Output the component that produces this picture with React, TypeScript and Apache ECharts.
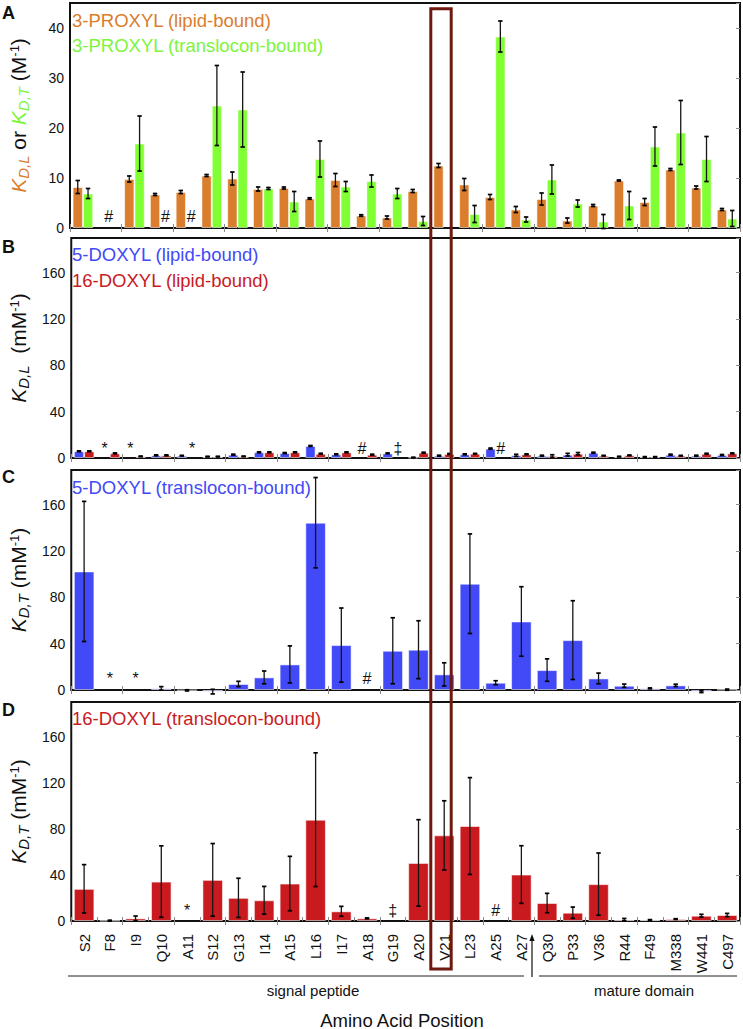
import React, { useEffect, useRef } from 'react';
import * as echarts from 'echarts';

// ---------------- data ----------------
const categories = ['S2', 'F8', 'I9', 'Q10', 'A11', 'S12', 'G13', 'I14', 'A15', 'L16', 'I17', 'A18', 'G19', 'A20', 'V21', 'L23', 'A25', 'A27', 'Q30', 'P33', 'V36', 'R44', 'F49', 'M338', 'W441', 'C497'];

// Panel A: 3-PROXYL (M^-1)
const proxylLipid = [8.2, null, 9.8, 6.7, 7.2, 10.5, 9.9, 7.8, 8.0, 5.9, 9.6, 2.5, 2.1, 7.4, 12.5, 8.7, 6.2, 3.7, 5.8, 1.5, 4.5, 9.5, 5.2, 11.7, 8.1, 3.7];
const proxylLipidErr = [1.3, null, 0.6, 0.2, 0.3, 0.2, 1.3, 0.4, 0.2, 0.15, 1.3, 0.15, 0.3, 0.3, 0.4, 1.2, 0.5, 0.6, 1.2, 0.5, 0.2, 0.1, 0.7, 0.2, 0.3, 0.2];
const proxylTrans = [6.9, null, 16.9, null, null, 24.5, 23.7, 7.9, 5.3, 13.8, 8.3, 9.4, 6.9, 1.4, null, 2.8, 38.3, 1.7, 9.7, 4.9, 1.3, 4.5, 16.3, 19.1, 13.8, 1.9];
const proxylTransErr = [1.0, null, 5.5, null, null, 8.0, 7.5, 0.2, 2.0, 3.6, 1.0, 1.2, 1.0, 0.9, null, 1.7, 3.1, 0.5, 2.9, 0.7, 1.4, 2.8, 3.9, 6.4, 4.5, 1.6];

// Panel B: lipid-bound DOXYL (mM^-1)
const doxyl5Lipid = [5.8, null, null, 2.3, 2.0, 1.2, 2.9, 4.9, 4.3, 10.4, 3.2, null, 4.0, 0.4, 2.0, 3.2, 8.1, 2.3, 2.0, 2.9, 4.6, 1.2, 0.9, 2.9, 2.0, 2.6];
const doxyl5LipidErr = [0.4, null, null, 0.4, 0.3, 0.3, 0.4, 0.4, 0.4, 0.4, 0.4, null, 0.4, 0.3, 0.4, 0.4, 0.5, 0.9, 0.4, 1.1, 0.4, 0.3, 0.3, 0.4, 0.4, 0.4];
const doxyl16Lipid = [5.8, 4.0, 1.4, 2.3, null, 1.2, 1.4, 4.9, 4.9, 3.7, 4.9, 2.9, null, 4.6, 3.5, 3.7, null, 3.2, 1.7, 3.7, 2.0, 2.3, 0.9, 2.0, 3.7, 4.0];
const doxyl16LipidErr = [0.4, 0.4, 0.3, 0.4, null, 0.3, 0.3, 0.4, 0.4, 0.4, 0.4, 0.4, null, 0.4, 0.4, 0.3, null, 0.4, 1.1, 1.0, 0.3, 0.3, 0.3, 0.3, 0.4, 0.4];

// Panel C: 5-DOXYL translocon-bound (mM^-1)
const doxyl5Trans = [102.4, null, null, 1.4, -0.3, -1.4, 5.2, 10.9, 22.1, 144.5, 38.8, null, 33.9, 34.8, 13.5, 91.8, 6.3, 59.2, 17.2, 43.1, 10.0, 3.7, 1.4, 4.0, -1.4, 0.3];
const doxyl5TransErr = [60.5, null, null, 1.5, 0.5, 2.0, 2.3, 5.5, 16.0, 39.0, 32.0, null, 28.5, 25.0, 10.0, 43.0, 1.7, 30.0, 9.7, 34.0, 4.6, 1.4, 0.4, 1.0, 0.8, 0.5];

// Panel D: 16-DOXYL translocon-bound (mM^-1)
const doxyl16Trans = [27.9, 0.3, 2.3, 34.2, null, 35.7, 20.1, 18.0, 32.5, 87.9, 8.4, 2.3, null, 50.4, 74.3, 82.4, null, 40.3, 15.6, 7.2, 32.0, 1.2, 0.9, 1.7, 4.6, 5.2];
const doxyl16TransErr = [21.0, 0.4, 2.0, 31.0, null, 31.5, 17.0, 12.0, 23.6, 58.0, 4.3, 0.4, null, 37.5, 30.0, 42.0, null, 25.0, 8.4, 4.9, 27.0, 1.0, 0.3, 0.3, 1.2, 1.4];

// Markers for missing data
const markersA = [
  { cat: 'F8', symbol: '#', series: 'both' },
  { cat: 'Q10', symbol: '#', series: 'second' },
  { cat: 'A11', symbol: '#', series: 'second' },
];
const markersB = [
  { cat: 'F8', symbol: '*', series: 'first' },
  { cat: 'I9', symbol: '*', series: 'first' },
  { cat: 'A11', symbol: '*', series: 'second' },
  { cat: 'A18', symbol: '#', series: 'first' },
  { cat: 'G19', symbol: '‡', series: 'second' },
  { cat: 'A25', symbol: '#', series: 'second' },
];
const markersC = [
  { cat: 'F8', symbol: '*', series: 'both' },
  { cat: 'I9', symbol: '*', series: 'both' },
  { cat: 'A18', symbol: '#', series: 'both' },
];
const markersD = [
  { cat: 'A11', symbol: '*', series: 'both' },
  { cat: 'G19', symbol: '‡', series: 'both' },
  { cat: 'A25', symbol: '#', series: 'both' },
];

const axisMaxA = 45;
const axisIntervalA = 10;
const axisMaxBCD = 190;
const axisIntervalBCD = 40;

const highlightCategory = 'V21';
const lastSignalCategory = 'A27';

// ---------------- style ----------------
const FONT = '"Liberation Sans", Arial, Helvetica, sans-serif';
const ORANGE = '#DA7D2C';
const GREEN = '#80FF33';
const GREEN_TEXT = '#7CF53A';
const BLUE = '#4249F7';
const RED = '#C91B1F';
const BOX = '#6E1810';
const INK = '#111';

const GL = 64;
const GW = 676;
const PANELS = [
  { top: 3, height: 225, max: axisMaxA, interval: axisIntervalA },
  { top: 238, height: 220, max: axisMaxBCD, interval: axisIntervalBCD },
  { top: 470, height: 220, max: axisMaxBCD, interval: axisIntervalBCD },
  { top: 702, height: 219, max: axisMaxBCD, interval: axisIntervalBCD },
];

const SLOT2 = { first: -0.2, second: 0.2, both: 0 };
const SLOT1 = { first: 0, second: 0, both: 0 };

function barSeries(k: number, values: any[], color: string, width: string) {
  return {
    type: 'bar',
    xAxisIndex: 2 * k,
    yAxisIndex: 2 * k,
    data: values.map((v) => (v == null ? '-' : v)),
    barWidth: width,
    barGap: '0%',
    clip: false,
    silent: true,
    itemStyle: { color, borderColor: 'rgba(255,255,255,0.55)', borderWidth: 1 },
  };
}

function errorSeries(k: number, values: any[], errs: any[], offset: number) {
  const data: number[][] = [];
  values.forEach((v, i) => {
    if (v != null && errs[i] != null) data.push([i, v, errs[i]]);
  });
  return {
    type: 'custom',
    xAxisIndex: 2 * k,
    yAxisIndex: 2 * k,
    z: 5,
    clip: false,
    silent: true,
    data,
    renderItem: (params: any, api: any) => {
      const i = api.value(0);
      const v = api.value(1);
      const e = api.value(2);
      const band = api.size([1, 0])[0];
      const top = api.coord([i, v + e]);
      const bot = api.coord([i, v - e]);
      const x = top[0] + offset * band;
      const cap = 2.2;
      const st = { stroke: '#161616', lineWidth: 1.3 };
      const cs = { stroke: '#000', lineWidth: 1.7 };
      return {
        type: 'group',
        children: [
          { type: 'line', shape: { x1: x, y1: top[1], x2: x, y2: bot[1] }, style: st },
          { type: 'line', shape: { x1: x - cap, y1: top[1], x2: x + cap, y2: top[1] }, style: cs },
          { type: 'line', shape: { x1: x - cap, y1: bot[1], x2: x + cap, y2: bot[1] }, style: cs },
        ],
      };
    },
  };
}

function markerSeries(k: number, list: any[], yVal: number, slots: any) {
  const data = list.map((m) => [categories.indexOf(m.cat), yVal]);
  return {
    type: 'custom',
    xAxisIndex: 2 * k,
    yAxisIndex: 2 * k,
    z: 6,
    clip: false,
    silent: true,
    data,
    renderItem: (params: any, api: any) => {
      const m = list[params.dataIndex];
      const p = api.coord([api.value(0), api.value(1)]);
      const band = api.size([1, 0])[0];
      return {
        type: 'text',
        x: p[0] + slots[m.series] * band,
        y: p[1],
        style: {
          text: m.symbol,
          fill: INK,
          font: `16px ${FONT}`,
          align: 'center',
          verticalAlign: 'middle',
          textAlign: 'center',
          textVerticalAlign: 'middle',
        },
      };
    },
  };
}

function richFor(c1: string, c2: string) {
  const main = { fontSize: 21, lineHeight: 23, verticalAlign: 'top', fontFamily: FONT };
  const sub = { fontSize: 15, lineHeight: 15, verticalAlign: 'bottom', fontFamily: FONT, fontStyle: 'italic' };
  return {
    k1: { ...main, fontStyle: 'italic', color: c1 },
    s1: { ...sub, color: c1 },
    k2: { ...main, fontStyle: 'italic', color: c2 },
    s2: { ...sub, color: c2 },
    t: { ...main, color: INK },
    sup: { fontSize: 13, lineHeight: 13, verticalAlign: 'top', fontFamily: FONT, color: INK },
  };
}

const yNames = [
  { name: '{k1|K}{s1|D,L}{t| or }{k2|K}{s2|D,T}{t| (M}{sup|-1}{t|)}', rich: richFor(ORANGE, GREEN_TEXT) },
  { name: '{k1|K}{s1|D,L}{t|  (mM}{sup|-1}{t|)}', rich: richFor(INK, INK) },
  { name: '{k1|K}{s1|D,T}{t| (mM}{sup|-1}{t|)}', rich: richFor(INK, INK) },
  { name: '{k1|K}{s1|D,T}{t| (mM}{sup|-1}{t|)}', rich: richFor(INK, INK) },
];

function buildOption() {
  const band = GW / categories.length;
  const hiIdx = categories.indexOf(highlightCategory);
  const boundaryX = GL + band * (categories.indexOf(lastSignalCategory) + 1);
  const boxLeft = GL + band * hiIdx + 2.8;
  const boxW = band - 5.6;
  const tick = { show: true, inside: true, length: 4, lineStyle: { color: '#8a8a8a', width: 1 } };

  const grid = PANELS.map((p) => ({
    left: GL,
    width: GW,
    top: p.top,
    height: p.height,
    show: true,
    borderColor: INK,
    borderWidth: 2,
    backgroundColor: 'transparent',
  }));

  const xAxis = PANELS.flatMap((p, k) => [
    {
      gridIndex: k,
      type: 'category',
      data: categories,
      position: 'bottom',
      axisLine: { show: false },
      axisTick: tick,
      splitLine: { show: false },
      axisLabel:
        k === 3
          ? { show: true, rotate: 90, margin: 13, fontSize: 15, color: INK, fontFamily: FONT, interval: 0 }
          : { show: false },
    },
    {
      gridIndex: k,
      type: 'category',
      data: categories,
      position: 'top',
      axisLine: { show: false },
      axisTick: tick,
      splitLine: { show: false },
      axisLabel: { show: false },
    },
  ]);

  const yAxis = PANELS.flatMap((p, k) => [
    {
      gridIndex: k,
      type: 'value',
      min: 0,
      max: p.max,
      interval: p.interval,
      position: 'left',
      axisLine: { show: false },
      axisTick: { show: false },
      splitLine: { show: false },
      axisLabel: {
        color: INK,
        fontSize: 14,
        fontFamily: FONT,
        margin: 6,
        formatter: (v: number) => (v % p.interval === 0 ? String(v) : ''),
      },
      name: yNames[k].name,
      nameLocation: 'middle',
      nameRotate: 90,
      nameGap: 39,
      nameTextStyle: { rich: yNames[k].rich, fontFamily: FONT },
    },
    {
      gridIndex: k,
      type: 'value',
      min: 0,
      max: p.max,
      interval: p.interval,
      position: 'right',
      axisLine: { show: false },
      axisTick: tick,
      splitLine: { show: false },
      axisLabel: { show: false },
    },
  ]);

  const series: any[] = [
    barSeries(0, proxylLipid, ORANGE, '40%'),
    barSeries(0, proxylTrans, GREEN, '40%'),
    errorSeries(0, proxylLipid, proxylLipidErr, -0.2),
    errorSeries(0, proxylTrans, proxylTransErr, 0.2),
    markerSeries(0, markersA, 2.3, SLOT2),

    barSeries(1, doxyl5Lipid, BLUE, '40%'),
    barSeries(1, doxyl16Lipid, RED, '40%'),
    errorSeries(1, doxyl5Lipid, doxyl5LipidErr, -0.2),
    errorSeries(1, doxyl16Lipid, doxyl16LipidErr, 0.2),
    markerSeries(1, markersB, 8.5, SLOT2),

    barSeries(2, doxyl5Trans, BLUE, '80%'),
    errorSeries(2, doxyl5Trans, doxyl5TransErr, 0),
    markerSeries(2, markersC, 10, SLOT1),

    barSeries(3, doxyl16Trans, RED, '80%'),
    errorSeries(3, doxyl16Trans, doxyl16TransErr, 0),
    markerSeries(3, markersD, 9, SLOT1),
  ];

  const txt = (x: number, y: number, text: string, fill: string, font: string, align = 'left') => ({
    type: 'text',
    x,
    y,
    z: 50,
    silent: true,
    style: {
      text,
      fill,
      font,
      align,
      verticalAlign: 'middle',
      textAlign: align,
      textVerticalAlign: 'middle',
    },
  });

  const legendFont = `18.5px ${FONT}`;
  const letterFont = `bold 18px ${FONT}`;

  const graphic: any[] = [
    txt(2, 13, 'A', INK, letterFont),
    txt(2, 247, 'B', INK, letterFont),
    txt(2, 477, 'C', INK, letterFont),
    txt(2, 710, 'D', INK, letterFont),
    txt(72, 20, '3-PROXYL (lipid-bound)', ORANGE, legendFont),
    txt(72, 45, '3-PROXYL (translocon-bound)', GREEN_TEXT, legendFont),
    txt(72, 254, '5-DOXYL (lipid-bound)', BLUE, legendFont),
    txt(72, 280, '16-DOXYL (lipid-bound)', RED, legendFont),
    txt(72, 487, '5-DOXYL (translocon-bound)', BLUE, legendFont),
    txt(72, 718, '16-DOXYL (translocon-bound)', RED, legendFont),
    {
      type: 'rect',
      z: 100,
      silent: true,
      shape: { x: boxLeft, y: 8.7, width: boxW, height: 969 - 8.7 },
      style: { fill: 'none', stroke: BOX, lineWidth: 3 },
    },
    {
      type: 'line',
      z: 50,
      silent: true,
      shape: { x1: GL + 4, y1: 976, x2: boundaryX - 8, y2: 976 },
      style: { stroke: '#222', lineWidth: 1 },
    },
    {
      type: 'line',
      z: 50,
      silent: true,
      shape: { x1: boundaryX + 7, y1: 976, x2: GL + GW - 3, y2: 976 },
      style: { stroke: '#222', lineWidth: 1 },
    },
    {
      type: 'line',
      z: 50,
      silent: true,
      shape: { x1: boundaryX, y1: 977, x2: boundaryX, y2: 938 },
      style: { stroke: '#111', lineWidth: 1.2 },
    },
    {
      type: 'polygon',
      z: 50,
      silent: true,
      shape: { points: [[boundaryX, 934], [boundaryX - 2.6, 941], [boundaryX + 2.6, 941]] },
      style: { fill: '#111' },
    },
    txt(313, 990, 'signal peptide', INK, `15px ${FONT}`, 'center'),
    txt(644, 990, 'mature domain', INK, `15px ${FONT}`, 'center'),
    txt(402, 1020, 'Amino Acid Position', INK, `18.5px ${FONT}`, 'center'),
  ];

  return {
    animation: false,
    backgroundColor: '#fff',
    textStyle: { fontFamily: FONT },
    grid,
    xAxis,
    yAxis,
    series,
    graphic,
  };
}

export default function App() {
  const ref = useRef<HTMLDivElement>(null);
  useEffect(() => {
    document.body.style.margin = '0';
    if (!ref.current) return;
    const chart = echarts.init(ref.current, undefined, { renderer: 'svg' });
    chart.setOption(buildOption() as any);
    return () => chart.dispose();
  }, []);
  return <div ref={ref} style={{ position: 'absolute', left: 0, top: 0, width: 743, height: 1029 }} />;
}
